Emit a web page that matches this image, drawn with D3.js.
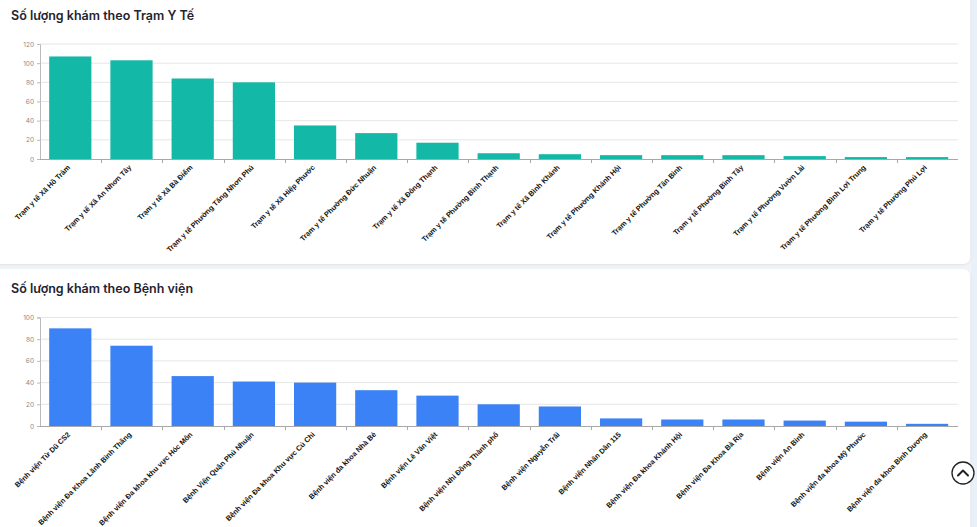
<!DOCTYPE html>
<html>
<head>
<meta charset="utf-8">
<script src="https://cdn.jsdelivr.net/npm/d3@7"></script>
<style>
  body { margin: 0; background: #f1f4f8; font-family: 'Liberation Sans', Arial, sans-serif; }
  svg { display: block; }
</style>
</head>
<body>
<svg id="page" width="977" height="527"></svg>
<script>
// station chart (Trạm Y Tế)
const stationNames = [
  'Trạm y tế Xã Hồ Tràm', 'Trạm y tế Xã An Nhơn Tây', 'Trạm y tế Xã Bà Điểm',
  'Trạm y tế Phường Tăng Nhơn Phú', 'Trạm y tế Xã Hiệp Phước', 'Trạm y tế Phường Đức Nhuận',
  'Trạm y tế Xã Đông Thạnh', 'Trạm y tế Phường Bình Thạnh', 'Trạm y tế Xã Bình Khánh',
  'Trạm y tế Phường Khánh Hội', 'Trạm y tế Phường Tân Bình', 'Trạm y tế Phường Bình Tây',
  'Trạm y tế Phường Vườn Lài', 'Trạm y tế Phường Bình Lợi Trung', 'Trạm y tế Phường Phú Lợi'
]
const stationCounts = [107, 103, 84, 80, 35, 27, 17, 6, 5, 4, 4, 4, 3, 2, 2]
const stationTicks = [0, 20, 40, 60, 80, 100, 120]

// hospital chart (Bệnh viện)
const hospitalNames = [
  'Bệnh viện Từ Dũ CS2', 'Bệnh viện Đa Khoa Lãnh Bình Thăng', 'Bệnh viện Đa khoa khu vực Hóc Môn',
  'Bệnh Viện Quận Phú Nhuận', 'Bệnh viện Đa khoa Khu vực Củ Chi', 'Bệnh viện đa khoa Nhà Bè',
  'Bệnh viện Lê Văn Việt', 'Bệnh viện Nhi Đồng Thành phố', 'Bệnh viện Nguyễn Trãi',
  'Bệnh viện Nhân Dân 115', 'Bệnh viện Đa khoa Khánh Hội', 'Bệnh viện Đa Khoa Bà Rịa',
  'Bệnh viện An Bình', 'Bệnh viện đa khoa Mỹ Phước', 'Bệnh viện đa khoa Bình Dương'
]
const hospitalCounts = [90, 74, 46, 41, 40, 33, 28, 20, 18, 7, 6, 6, 5, 4, 2]
const hospitalTicks = [0, 20, 40, 60, 80, 100]

const svg = d3.select('#page')

// side strip + cards
svg.append('rect').attr('x', 971).attr('y', 0).attr('width', 6).attr('height', 527).attr('fill', '#eaf0f7')

const defs = svg.append('defs')
const f = defs.append('filter').attr('id', 'shadow').attr('x', '-5%').attr('y', '-5%').attr('width', '110%').attr('height', '110%')
f.append('feDropShadow').attr('dx', 0).attr('dy', 1).attr('stdDeviation', 1.5).attr('flood-color', '#000').attr('flood-opacity', 0.08)

const drawCard = ({ top, bottom, titleY, title, names, counts, ticks, color, x0 = 40, x1 = 958, y0, y1 }) => {
  svg.append('rect')
    .attr('x', -8).attr('y', top)
    .attr('width', 978).attr('height', bottom - top)
    .attr('rx', 7)
    .attr('fill', '#fff')
    .attr('filter', 'url(#shadow)')

  svg.append('text')
    .attr('x', 11).attr('y', titleY)
    .attr('font-family', 'Inter, "Open Sans", sans-serif')
    .attr('font-weight', 600)
    .attr('font-size', 12.5)
    .attr('fill', '#1f2430')
    .text(title)

  const x = d3.scaleBand().domain(names).range([x0, x1]).padding(0)
  const y = d3.scaleLinear().domain([0, d3.max(ticks)]).range([y1, y0])

  const g = svg.append('g')

  // grid
  g.append('g').selectAll('line')
    .data(ticks.slice(1))
    .enter().append('line')
    .attr('x1', x0).attr('x2', x1)
    .attr('y1', d => y(d)).attr('y2', d => y(d))
    .attr('stroke', '#e6e6e6')
    .attr('stroke-width', 1)

  // y axis
  const yAxis = d3.axisLeft(y).tickValues(ticks).tickSize(3).tickPadding(3)
  const ya = g.append('g').attr('transform', `translate(${x0},0)`).call(yAxis)
  ya.select('.domain').attr('stroke', '#bbb')
  ya.selectAll('.tick line').attr('stroke', '#bbb')
  ya.selectAll('.tick text')
    .attr('fill', '#8a8a8a')
    .attr('font-size', 6.5)
    .attr('font-family', 'Inter, sans-serif')

  // bars
  const bw = x.bandwidth()
  g.append('g').selectAll('rect')
    .data(names.map((n, i) => ({ name: n, value: counts[i] })))
    .enter().append('rect')
    .attr('x', d => x(d.name) + bw * 0.15)
    .attr('width', bw * 0.69)
    .attr('y', d => y(d.value))
    .attr('height', d => y(0) - y(d.value))
    .attr('fill', color)

  // x axis: ticks on band edges
  g.append('line')
    .attr('x1', x0).attr('x2', x1)
    .attr('y1', y1 + 0.5).attr('y2', y1 + 0.5)
    .attr('stroke', '#a8a8a8')
  g.append('g').selectAll('line')
    .data(names.slice(1))
    .enter().append('line')
    .attr('x1', d => Math.round(x(d)) + 0.5).attr('x2', d => Math.round(x(d)) + 0.5)
    .attr('y1', y1).attr('y2', y1 + 4)
    .attr('stroke', '#a8a8a8')

  g.append('g').selectAll('text')
    .data(names)
    .enter().append('text')
    .attr('transform', d => `translate(${x(d) + bw / 2},${y1 + 9}) rotate(-45)`)
    .attr('text-anchor', 'end')
    .attr('font-size', 7.3)
    .attr('font-weight', 600)
    .attr('fill', '#111')
    .text(d => d)
}

drawCard({
  top: -10, bottom: 264, titleY: 20,
  title: 'Số lượng khám theo Trạm Y Tế',
  names: stationNames, counts: stationCounts, ticks: stationTicks,
  color: '#14b8a6', y0: 44, y1: 159
})

drawCard({
  top: 269, bottom: 540, titleY: 293,
  title: 'Số lượng khám theo Bệnh viện',
  names: hospitalNames, counts: hospitalCounts, ticks: hospitalTicks,
  color: '#3b82f6', y0: 317.5, y1: 426
})

// scroll-to-top button
const btn = svg.append('g').attr('transform', 'translate(963,473)')
btn.append('circle').attr('r', 11).attr('fill', '#fff').attr('stroke', '#222').attr('stroke-width', 1.3)
btn.append('path').attr('d', 'M-5,2.5 L0,-2.5 L5,2.5')
  .attr('fill', 'none').attr('stroke', '#222').attr('stroke-width', 2).attr('stroke-linecap', 'round').attr('stroke-linejoin', 'round')
</script>
</body>
</html>
